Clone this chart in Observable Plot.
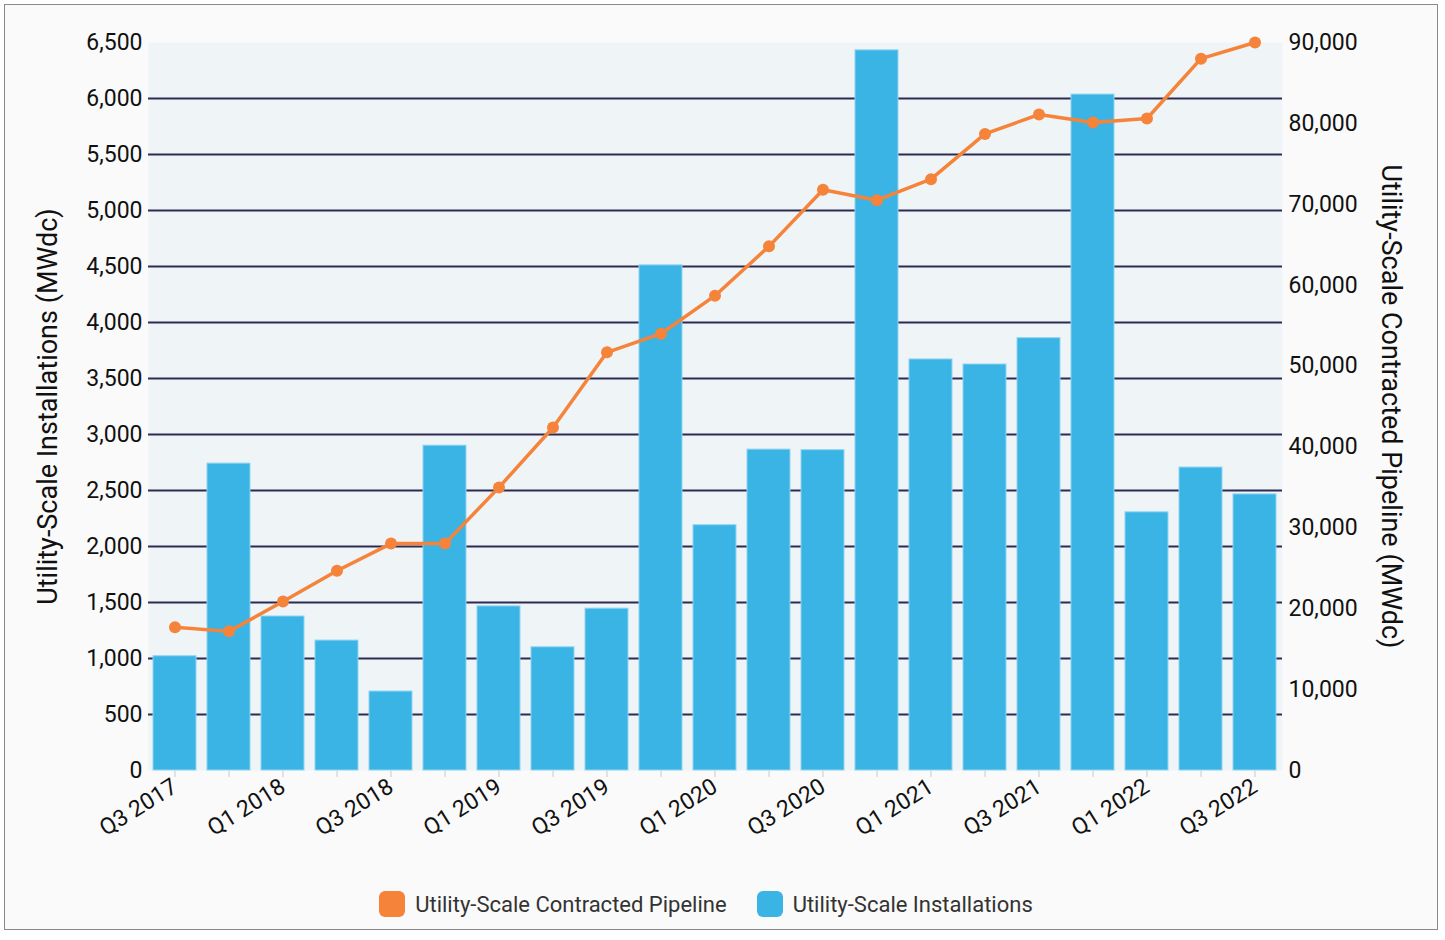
<!DOCTYPE html>
<html>
<head>
<meta charset="utf-8">
<script src="https://cdn.jsdelivr.net/npm/d3@7"></script>
<script src="https://cdn.jsdelivr.net/npm/@observablehq/plot@0.6"></script>
<style>
  html, body { margin: 0; padding: 0; background: #ffffff; }
  body { position: relative; width: 1445px; height: 940px; font-family: Roboto, "Noto Sans", sans-serif; }
  #frame { position: absolute; left: 4px; top: 4px; width: 1432px; height: 924px; border: 1px solid #8a8a8a; background: #fafafa; }
  #chart { position: absolute; left: 0; top: 0; }
  #legend { position: absolute; left: 0; top: 891px; width: 1412px; display: flex; justify-content: center; gap: 30px; font-size: 22px; color: #333; }
  .item { display: flex; align-items: center; gap: 10px; }
  .sw { width: 26px; height: 26px; border-radius: 6px; display: inline-block; }
</style>
</head>
<body>
<div id="frame"></div>
<div id="chart"></div>
<div id="legend"></div>
<script>
const quarters = ["Q3 2017","Q4 2017","Q1 2018","Q2 2018","Q3 2018","Q4 2018","Q1 2019","Q2 2019","Q3 2019","Q4 2019","Q1 2020","Q2 2020","Q3 2020","Q4 2020","Q1 2021","Q2 2021","Q3 2021","Q4 2021","Q1 2022","Q2 2022","Q3 2022"];
const installations = [1020, 2740, 1375, 1160, 705, 2900, 1465, 1100, 1445, 4510, 2190, 2865, 2860, 6430, 3670, 3625, 3860, 6035, 2305, 2705, 2465];
const pipeline = [17700, 17200, 20900, 24700, 28050, 28050, 35000, 42400, 51700, 54000, 58700, 64800, 71800, 70500, 73100, 78700, 81100, 80100, 80600, 88000, 90000];
const leftTicks = d3.range(0, 6501, 500);
const rightTicks = d3.range(0, 90001, 10000);
const gridTicks = d3.range(500, 6001, 500);
const labeledQuarters = quarters.filter((q, i) => i % 2 === 0);

const seriesNames = ["Utility-Scale Contracted Pipeline", "Utility-Scale Installations"];
const seriesColors = ["#f5843a", "#3ab3e5"];

const leftMax = 6500, rightMax = 90000;
const toLeft = v => v * leftMax / rightMax;

const barData = quarters.map((q, i) => ({q, v: installations[i]}));
const lineData = quarters.map((q, i) => ({q, v: toLeft(pipeline[i])}));
const fmt = d3.format(",");

const chart = Plot.plot({
  width: 1445,
  height: 860,
  marginLeft: 148,
  marginRight: 163,
  marginTop: 42,
  marginBottom: 90,
  style: {fontFamily: "Roboto, sans-serif", fontSize: "23px", color: "#111", background: "transparent", overflow: "visible"},
  x: {domain: quarters, paddingInner: 0.2, paddingOuter: 0.1, label: null},
  y: {domain: [0, leftMax], label: null},
  marks: [
    Plot.frame({fill: "#eff4f7", stroke: null}),
    Plot.ruleY(gridTicks, {stroke: "#2e2a52", strokeWidth: 2}),
    Plot.barY(barData, {x: "q", y: "v", fill: seriesColors[1], stroke: "#8fd4f1", strokeWidth: 1}),
    Plot.line(lineData, {x: "q", y: "v", stroke: seriesColors[0], strokeWidth: 3.5}),
    Plot.dot(lineData, {x: "q", y: "v", fill: seriesColors[0], r: 6}),
    Plot.axisY(leftTicks, {anchor: "left", tickSize: 0, tickPadding: 6, tickFormat: fmt, label: null, fontSize: 23}),
    Plot.axisY(rightTicks.map(toLeft), {anchor: "right", tickSize: 0, tickPadding: 6, tickFormat: d => fmt(Math.round(d * rightMax / leftMax)), label: null, fontSize: 23}),
    Plot.axisX({tickSize: 7, stroke: "#d9d9d9", strokeWidth: 1.5, text: null, label: null}),
    Plot.axisX(labeledQuarters, {tickSize: 0, tickRotate: -32, tickPadding: 14, label: null, fontSize: 23}),
    Plot.text(["Utility-Scale Installations (MWdc)"], {frameAnchor: "left", textAnchor: "middle", dx: -100, rotate: -90, fontSize: 27, fill: "#111"}),
    Plot.text(["Utility-Scale Contracted Pipeline (MWdc)"], {frameAnchor: "right", textAnchor: "middle", dx: 108, rotate: 90, fontSize: 27, fill: "#111"})
  ]
});
document.getElementById("chart").appendChild(chart);

const legend = document.getElementById("legend");
seriesNames.forEach((name, i) => {
  const item = document.createElement("div");
  item.className = "item";
  const sw = document.createElement("span");
  sw.className = "sw";
  sw.style.background = seriesColors[i];
  const label = document.createElement("span");
  label.textContent = name;
  item.appendChild(sw);
  item.appendChild(label);
  legend.appendChild(item);
});
</script>
</body>
</html>
